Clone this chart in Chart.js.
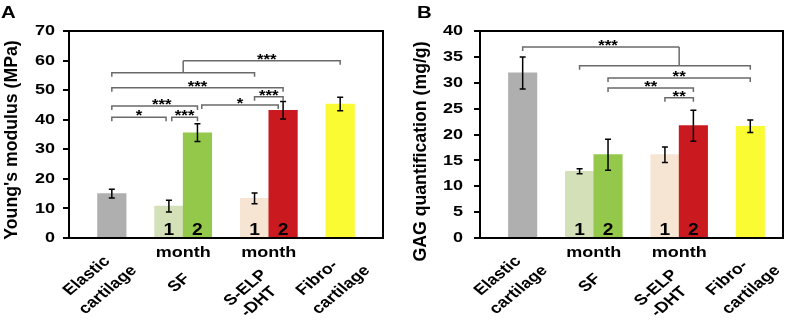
<!DOCTYPE html>
<html>
<head>
<meta charset="utf-8">
<script src="https://cdn.jsdelivr.net/npm/chart.js@4.4.1/dist/chart.umd.min.js"></script>
<style>
  html, body { margin: 0; padding: 0; background: #fff; }
  .panel { position: absolute; top: 0; width: 398px; height: 325px; }
  #panelA { left: 0; }
  #panelB { left: 398px; }
</style>
</head>
<body>
<div class="panel" id="panelA"><canvas id="chartA" width="398" height="325"></canvas></div>
<div class="panel" id="panelB"><canvas id="chartB" width="398" height="325"></canvas></div>
<script>
// groups, in the order they stand on the x axis
const groups = ['Elastic cartilage', 'SF 1 month', 'SF 2 month', 'S-ELP-DHT 1 month', 'S-ELP-DHT 2 month', 'Fibrocartilage'];
const slots = [1.5, 3.5, 4.5, 6.5, 7.5, 9.5];
const barColors = ['#afafaf', '#d4e0b7', '#94c84b', '#f5e5d2', '#cb1a1f', '#fbfb34'];
const barDigits = ['', '1', '2', '1', '2', ''];

const axisLabels = [['Elastic', 'cartilage'], ['SF'], ['S-ELP', '-DHT'], ['Fibro-', 'cartilage']];
const axisLabelAt = [1.5, 4, 7, 9.5];
const monthAt = [4, 7];

// A: Young's modulus (MPa)
const modulus = [15.0, 10.8, 35.6, 13.4, 43.2, 45.3];
const modulusErr = [1.5, 2.0, 3.0, 1.8, 3.0, 2.3];
// [from, to, y, label, labelAt, ticks]
const modulusBrackets = [
    [1.5, 3.4, 40.8, '*'],
    [3.6, 4.5, 40.8, '***'],
    [1.5, 4.5, 44.6, '***', 3.25],
    [4.65, 7.33, 45.0, '*'],
    [6.5, 7.5, 47.8, '***'],
    [1.5, 7.5, 50.8, '***'],
    [1.5, 6.5, 55.9, ''],
    [4.0, 9.5, 59.9, '***', 6.93, 'right']
];
const modulusStems = [[4.0, 55.9, 59.9]];

// B: GAG quantification (mg/g)
const gag = [31.9, 12.9, 16.1, 16.1, 21.7, 21.6];
const gagErr = [3.1, 0.5, 3.0, 1.5, 3.0, 1.2];
const gagBrackets = [
    [1.5, 7.0, 36.9, '***', 4.5, 'left'],
    [3.5, 9.5, 33.3, ''],
    [4.5, 9.5, 30.9, '**'],
    [4.5, 7.5, 29.0, '**'],
    [6.5, 7.5, 27.1, '**']
];
const gagStems = [[7.0, 33.3, 36.9]];

// layout of the rotated group names: offset of each line from (slot, axis bottom)
const labelOffsets = [[[-25, 38], [-4, 52]], [[-4, 45]], [[-23, 50], [-10, 64]], [[-23, 40], [1, 52]]];

const FONT = '"Liberation Sans", Arial, sans-serif';
const STRETCH = 1.2;

const drawText = (ctx, text, x, y, size, align, baseline, angle, sx = STRETCH) => {
    ctx.save();
    ctx.translate(x, y);
    ctx.scale(sx, 1);
    if (angle) ctx.rotate(angle);
    ctx.font = `bold ${size}px ${FONT}`;
    ctx.textAlign = align;
    ctx.textBaseline = baseline;
    ctx.fillStyle = '#000';
    ctx.fillText(text, 0, 0);
    ctx.restore();
};

const decor = (cfg) => ({
    id: 'decor',
    afterDatasetsDraw(chart) {
        const { ctx, chartArea } = chart;
        const xs = chart.scales.x, ys = chart.scales.y;

        // error bars
        ctx.save();
        ctx.strokeStyle = '#000';
        ctx.lineWidth = 1.5;
        cfg.values.forEach((v, i) => {
            const x = xs.getPixelForValue(slots[i]);
            const hi = ys.getPixelForValue(v + cfg.errors[i]);
            const lo = ys.getPixelForValue(v - cfg.errors[i]);
            ctx.beginPath();
            ctx.moveTo(x, hi); ctx.lineTo(x, lo);
            ctx.moveTo(x - 3, hi); ctx.lineTo(x + 3, hi);
            ctx.moveTo(x - 3, lo); ctx.lineTo(x + 3, lo);
            ctx.stroke();
        });
        ctx.restore();

        // digits inside the bars
        barDigits.forEach((d, i) => {
            if (d) drawText(ctx, d, xs.getPixelForValue(slots[i]), ys.getPixelForValue(0) - 3, 16, 'center', 'alphabetic');
        });

        // significance brackets
        ctx.save();
        ctx.strokeStyle = '#6a6a6a';
        ctx.lineWidth = 1.5;
        cfg.brackets.forEach(([x1, x2, y, label, at, ticks]) => {
            const p1 = xs.getPixelForValue(x1), p2 = xs.getPixelForValue(x2), py = ys.getPixelForValue(y);
            ctx.beginPath();
            ctx.moveTo(p1, py + (ticks === 'right' ? 0 : 4));
            ctx.lineTo(p1, py);
            ctx.lineTo(p2, py);
            ctx.lineTo(p2, py + (ticks === 'left' ? 0 : 4));
            ctx.stroke();
            if (label) {
                const lx = xs.getPixelForValue(at !== undefined ? at : (x1 + x2) / 2);
                drawText(ctx, label, lx, py + 3, 14, 'center', 'alphabetic');
            }
        });
        cfg.stems.forEach(([x, y1, y2]) => {
            const px = xs.getPixelForValue(x);
            ctx.beginPath();
            ctx.moveTo(px, ys.getPixelForValue(y1));
            ctx.lineTo(px, ys.getPixelForValue(y2));
            ctx.stroke();
        });
        ctx.restore();
    },
    afterDraw(chart) {
        const { ctx, chartArea } = chart;
        const xs = chart.scales.x, ys = chart.scales.y;

        // plot frame
        ctx.save();
        ctx.strokeStyle = '#000';
        ctx.lineWidth = 2;
        ctx.strokeRect(chartArea.left, chartArea.top, chartArea.right - chartArea.left, chartArea.bottom - chartArea.top);
        ctx.restore();

        // y tick labels
        ys.ticks.forEach(t => {
            drawText(ctx, String(t.value), cfg.tickRight, ys.getPixelForValue(t.value), 15, 'right', 'middle');
        });

        // y title
        ctx.save();
        ctx.translate(cfg.titleX, cfg.titleY);
        ctx.rotate(-Math.PI / 2);
        ctx.font = `bold 17.7px ${FONT}`;
        ctx.textAlign = 'center';
        ctx.textBaseline = 'middle';
        ctx.fillStyle = '#000';
        ctx.fillText(cfg.title, 0, 0);
        ctx.restore();

        // panel letter
        drawText(ctx, cfg.letter, cfg.letterX, 18, 17, 'left', 'alphabetic');

        // "month" under the paired bars
        monthAt.forEach(m => drawText(ctx, 'month', xs.getPixelForValue(m), chartArea.bottom + 19, 15, 'center', 'alphabetic'));

        // rotated group names
        axisLabels.forEach((lines, i) => {
            const px = xs.getPixelForValue(axisLabelAt[i]);
            lines.forEach((line, j) => {
                const [dx, dy] = labelOffsets[i][j];
                drawText(ctx, line, px + dx, chartArea.bottom + dy, 15, 'center', 'middle', -Math.PI / 4);
            });
        });
    }
});

const makeChart = (id, cfg) => new Chart(document.getElementById(id), {
    type: 'bar',
    data: {
        labels: groups,
        datasets: [{
            data: slots.map((s, i) => ({ x: s, y: cfg.values[i] })),
            backgroundColor: barColors,
            borderWidth: 0,
            barPercentage: 1,
            categoryPercentage: 1
        }]
    },
    options: {
        responsive: false,
        animation: false,
        devicePixelRatio: 1,
        layout: { padding: cfg.padding },
        plugins: { legend: { display: false }, tooltip: { enabled: false } },
        scales: {
            x: {
                type: 'linear', min: 0, max: cfg.xMax, offset: false,
                grid: { display: false }, border: { display: false },
                ticks: { display: false },
                afterBuildTicks: s => { s.ticks = []; },
                afterFit: s => { s.height = 0; }
            },
            y: {
                min: 0, max: cfg.yMax,
                ticks: { display: false, stepSize: cfg.step },
                grid: { drawOnChartArea: false, drawTicks: true, tickLength: 6, color: '#000', lineWidth: 2 },
                border: { display: false },
                afterFit: s => { s.width = cfg.axisWidth; }
            }
        }
    },
    plugins: [decor(cfg)]
});

makeChart('chartA', {
    values: modulus, errors: modulusErr, brackets: modulusBrackets, stems: modulusStems,
    yMax: 70, step: 10, xMax: 11,
    padding: { left: 0, top: 31, right: 15, bottom: 87 }, axisWidth: 69,
    tickRight: 55, title: "Young's modulus (MPa)", titleX: 12.5, titleY: 140,
    letter: 'A', letterX: 1
});

makeChart('chartB', {
    values: gag, errors: gagErr, brackets: gagBrackets, stems: gagStems,
    yMax: 40, step: 5, xMax: 10.65,
    padding: { left: 0, top: 31, right: 13, bottom: 87 }, axisWidth: 82,
    tickRight: 65, title: 'GAG quantification (mg/g)', titleX: 23.5, titleY: 151.5,
    letter: 'B', letterX: 19
});
</script>
</body>
</html>
